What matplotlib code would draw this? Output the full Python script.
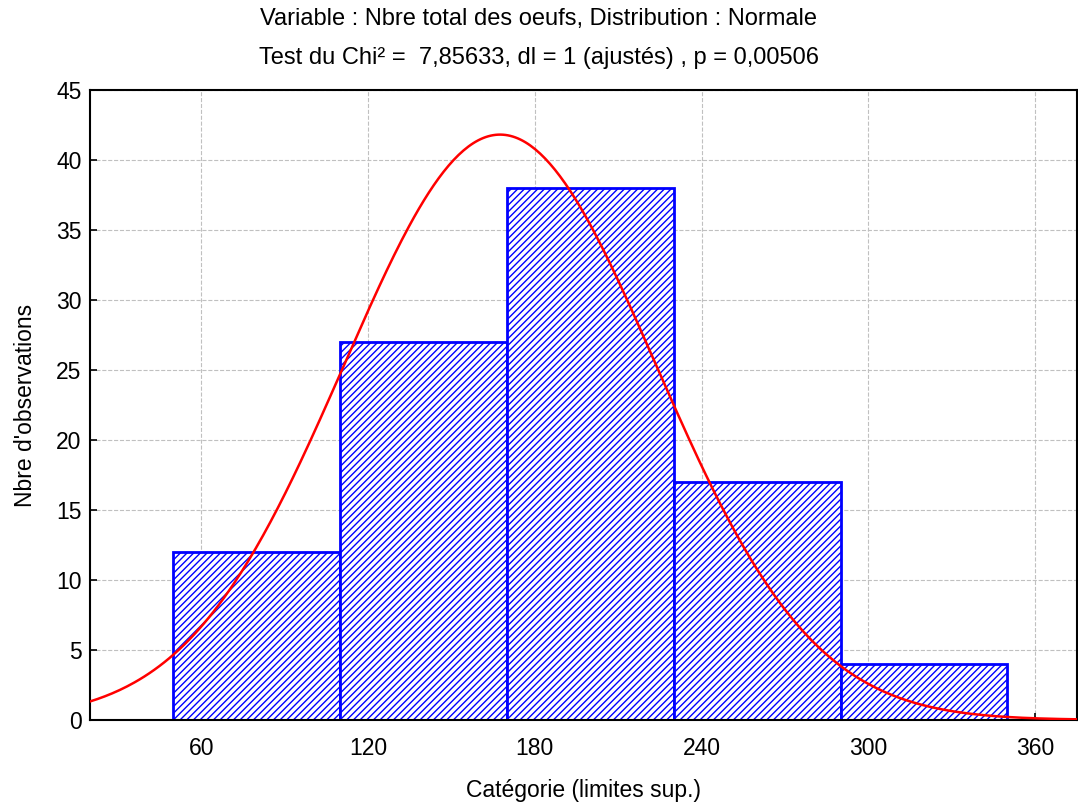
import matplotlib.pyplot as plt
import numpy as np

plt.rcParams['font.family'] = ['Liberation Sans', 'DejaVu Sans']
plt.rcParams['hatch.color'] = '#0000ff'
plt.rcParams['hatch.linewidth'] = 1.0

# histogram classes (upper limits) and counts
bin_edges = [50, 110, 170, 230, 290, 350]
counts = [12, 27, 38, 17, 4]

# fitted normal curve parameters
n_obs = sum(counts)
mu = 167.5
sigma = 56.1
bin_width = 60

x_ticks = [60, 120, 180, 240, 300, 360]
y_ticks = [0, 5, 10, 15, 20, 25, 30, 35, 40, 45]

fig = plt.figure(figsize=(10.78, 8.08), dpi=100)
ax = fig.add_axes([0.0835, 0.109, 0.9155, 0.7796])

lefts = bin_edges[:-1]
widths = np.diff(bin_edges)
ax.bar(lefts, counts, width=widths, align='edge', color='white',
       edgecolor='#0000ff', linewidth=2, hatch='/////', zorder=2)

xs = np.linspace(20, 375, 400)
ys = n_obs * bin_width / (sigma * np.sqrt(2 * np.pi)) * np.exp(-0.5 * ((xs - mu) / sigma) ** 2)
ax.plot(xs, ys, color='#ff0000', linewidth=1.8, zorder=3)

ax.set_xlim(20, 375)
ax.set_ylim(0, 45)
ax.set_xticks(x_ticks)
ax.set_yticks(y_ticks)
ax.tick_params(labelsize=16.5, direction='in', length=5, width=1.2)
ax.tick_params(axis='x', pad=12)
ax.tick_params(axis='y', pad=6)
ax.grid(True, linestyle='--', color='#c0c0c0', linewidth=0.8, zorder=0)
ax.set_axisbelow(True)
for s in ax.spines.values():
    s.set_linewidth(1.5)

fig.text(0.5, 0.976, "Variable : Nbre total des oeufs, Distribution : Normale",
         ha='center', va='center', fontsize=17)
fig.text(0.5, 0.928, "Test du Chi² =  7,85633, dl = 1 (ajustés) , p = 0,00506",
         ha='center', va='center', fontsize=17)
ax.set_xlabel("Catégorie (limites sup.)", fontsize=16.5, labelpad=14)
ax.set_ylabel("Nbre d'observations", fontsize=16.5, labelpad=14)

fig.savefig('out.png', dpi=100)
